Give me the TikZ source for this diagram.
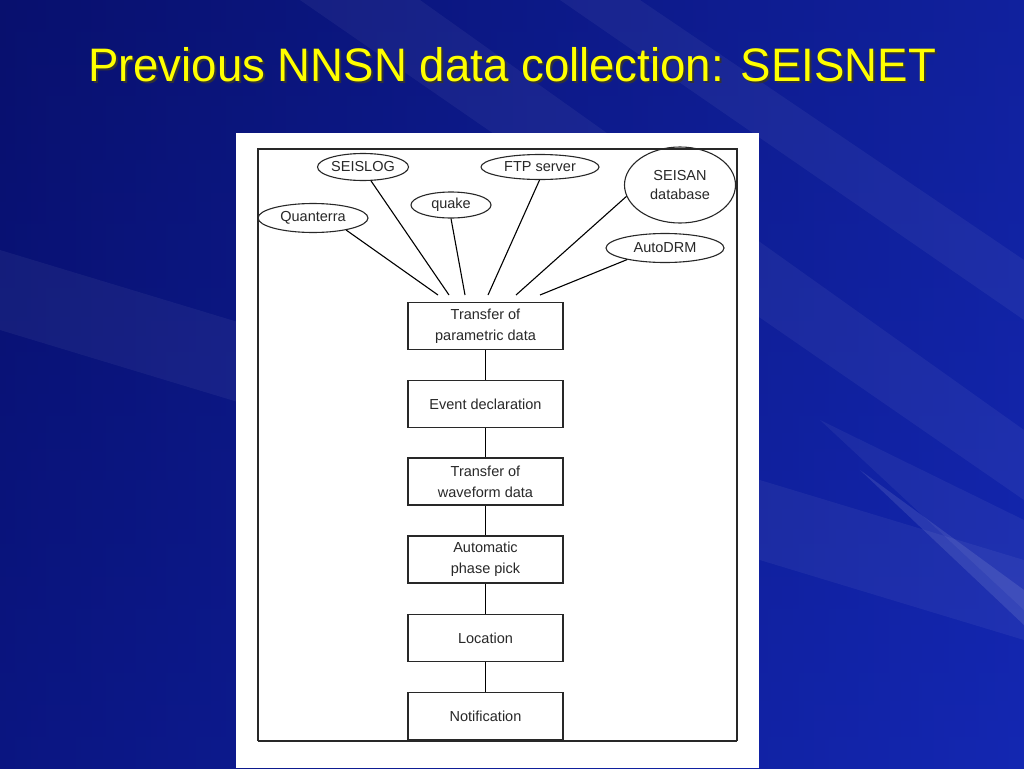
\documentclass[tikz,border=0pt]{standalone}
\usepackage{fontspec}
\setmainfont{Liberation Sans}
\usetikzlibrary{shapes.geometric}
\definecolor{bgdark}{RGB}{8,16,110}
\definecolor{bgmid}{RGB}{14,28,150}
\definecolor{bglight}{RGB}{25,50,205}
\definecolor{ttl}{RGB}{255,255,0}
\definecolor{ink}{RGB}{40,40,40}
\tikzset{
  src/.style={draw=ink, line width=1.1pt, ellipse, inner sep=0pt, font=\fontsize{14.5}{16}\selectfont, text=ink, align=center},
  stepbox/.style={draw=ink, line width=1.1pt, rectangle, minimum width=155pt, minimum height=47pt, inner sep=0pt, font=\fontsize{14.5}{21}\selectfont, text=ink, align=center},
  link/.style={draw=black, line width=1.1pt},
  streak/.style={fill=white, opacity=0.05}
}
\begin{document}
\begin{tikzpicture}[x=1pt,y=-1pt]
\useasboundingbox (0,0) rectangle (1024,768);
% background
\shade[top color=bgdark, bottom color=bgmid, shading angle=0] (0,0) rectangle (1024,768);
\shade[left color=bgdark, right color=bglight, opacity=0.5] (0,0) rectangle (1024,768);
\fill[streak] (300,0) -- (420,0) -- (1024,430) -- (1024,500) -- cycle;
\fill[streak] (0,250) -- (0,330) -- (1024,640) -- (1024,560) -- cycle;
\fill[streak] (560,0) -- (640,0) -- (1024,260) -- (1024,320) -- cycle;
\fill[streak] (820,420) -- (1024,520) -- (1024,610) -- cycle;
\fill[white, opacity=0.10] (860,470) -- (1024,590) -- (1024,625) -- cycle;
% title
\node[text=black!80, font=\fontsize{47}{50}\selectfont] at (514,67) {\scalebox{0.97}[1]{Previous NNSN data collection: SEISNET}};
\node[text=ttl, font=\fontsize{47}{50}\selectfont] (title) at (512,65) {\scalebox{0.97}[1]{Previous NNSN data collection: SEISNET}};
% paper
\fill[white] (236,133) rectangle (759,768);
\draw[ink, line width=1.1pt] (258,741) -- (258,149) -- (737,149) -- (737,741);
\draw[ink, line width=1.4pt] (258,741) -- (737,741);
% sources
\node[src, minimum width=91pt, minimum height=27pt] (seislog) at (363,167) {SEISLOG};
\node[src, minimum width=118pt, minimum height=25pt] (ftp) at (540,167) {FTP server};
\node[src, minimum width=111pt, minimum height=76pt] (seisan) at (680,185) {SEISAN\\[3pt]database};
\node[src, minimum width=80pt, minimum height=26pt] (quake) at (451,205) {quake};
\node[src, minimum width=110pt, minimum height=29pt] (quanterra) at (313,218) {Quanterra};
\node[src, minimum width=118pt, minimum height=29pt] (autodrm) at (665,248) {AutoDRM};
% steps
\node[stepbox] (s1) at (485.5,326) {Transfer of\\parametric data};
\node[stepbox] (s2) at (485.5,404) {Event declaration};
\node[stepbox] (s3) at (485.5,481.5) {Transfer of\\waveform data};
\node[stepbox] (s4) at (485.5,559.5) {Automatic\\phase pick};
\node[stepbox] (s5) at (485.5,638) {Location};
\node[stepbox] (s6) at (485.5,716) {Notification};
% free ends above the first step
\coordinate (e1) at (438,295);
\coordinate (e2) at (449,295);
\coordinate (e3) at (465,295);
\coordinate (e4) at (488,295);
\coordinate (e5) at (516,295);
\coordinate (e6) at (540,295);
\draw[link] (quanterra.-20) -- (e1);
\draw[link] (seislog.-60) -- (e2);
\draw[link] (quake.south) -- (e3);
\draw[link] (ftp.-92) -- (e4);
\draw[link] (seisan.192) -- (e5);
\draw[link] (autodrm.197) -- (e6);
\draw[link] (s1) -- (s2);
\draw[link] (s2) -- (s3);
\draw[link] (s3) -- (s4);
\draw[link] (s4) -- (s5);
\draw[link] (s5) -- (s6);
\end{tikzpicture}
\end{document}
